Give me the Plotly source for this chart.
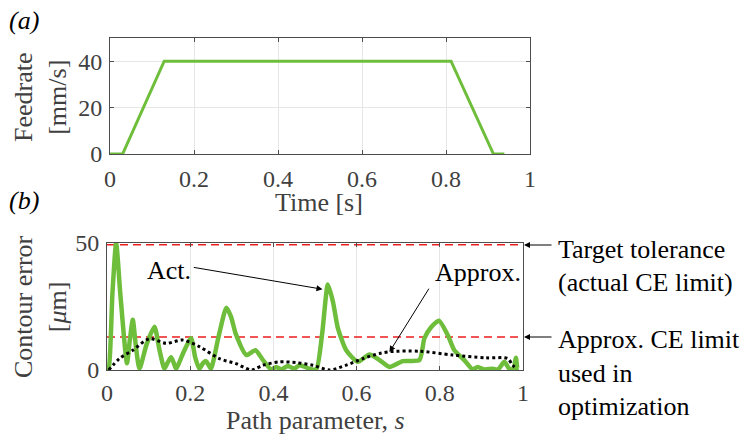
import plotly.graph_objects as go

# ---------------- data ----------------
feed_t = [0.0, 0.030, 0.129, 0.812, 0.913, 0.939]
feed_v = [0, 0, 40, 40, 0, 0]

act_s = [0.0, 0.004, 0.013, 0.022, 0.032, 0.048, 0.055, 0.062, 0.069, 0.078, 0.095, 0.114,
         0.126, 0.138, 0.146, 0.154, 0.160, 0.166, 0.184, 0.202, 0.212, 0.222, 0.230, 0.238,
         0.244, 0.25, 0.268, 0.287, 0.298, 0.31, 0.335, 0.357, 0.375, 0.395, 0.407, 0.419,
         0.435, 0.45, 0.463, 0.487, 0.503, 0.517, 0.531, 0.543, 0.555, 0.575, 0.603, 0.631,
         0.655, 0.679, 0.711, 0.751, 0.763, 0.780, 0.798, 0.819, 0.835, 0.859, 0.879, 0.891,
         0.907, 0.927, 0.94, 0.955, 0.967, 0.977, 0.983, 0.987, 0.99]
act_v = [0, 0.5, 30, 50, 30, 2.7, 12, 19.8, 10, 0.5, 10, 17,
         8, 0.5, 3, 5, 3, 0.5, 7, 12.5, 5, 0.5, 2.5, 3.5,
         2, 0.5, 13, 24.5, 21, 14, 5.9, 7.8, 3.9, 0.2, 1.2, 0.2,
         1.6, 0.5, 1.9, 0.5, 0.3, 14, 33.7, 27, 16.5, 7.8, 3.2, 6.1,
         3.9, 1.2, 3.5, 3.9, 12.5, 17, 19.4, 13.8, 7.8, 3.9, 0.2, 1.2,
         0.2, 0.5, 0.2, 3.2, 0.5, 0.2, 4.8, 0.3, 0.3]

apx_s = [0.004, 0.03, 0.062, 0.102, 0.142, 0.182, 0.222, 0.27, 0.31, 0.347, 0.375, 0.415,
         0.454, 0.495, 0.535, 0.575, 0.615, 0.655, 0.679, 0.751, 0.831, 0.911, 0.963, 0.975, 0.985]
apx_v = [0, 4.5, 7.8, 12.3, 10.5, 11.8, 9.2, 4.5, 2.5, 0, 1.9, 3.2,
         2.9, 1.9, 0, 1.9, 4.5, 6.5, 7.2, 7.4, 5.9, 4.8, 4.5, 1.9, 0.5]

tol_actual = 49.3
tol_approx = 13.0

x_ticks = [0, 0.2, 0.4, 0.6, 0.8, 1]
x_ticktext = ["0", "0.2", "0.4", "0.6", "0.8", "1"]
feed_ticks = [0, 20, 40]
ce_ticks = [0, 50]

# ---------------- styles ----------------
FONT = "'Liberation Serif', 'Times New Roman', Times, serif"
GREEN = "rgb(110,190,60)"
AXC = "#4d4d4d"
TXT = "#404040"
GRID = "#e6e6e6"
FS = 26
TFS = 24

fig = go.Figure()
fig.add_trace(go.Scatter(x=feed_t, y=feed_v, mode="lines", line=dict(color=GREEN, width=3),
                         xaxis="x", yaxis="y", showlegend=False))
fig.add_trace(go.Scatter(x=[0, 1], y=[tol_actual, tol_actual], mode="lines",
                         line=dict(color="rgb(235,30,30)", width=1.5, dash="8px,5px"),
                         xaxis="x2", yaxis="y2", showlegend=False))
fig.add_trace(go.Scatter(x=[0, 1], y=[tol_approx, tol_approx], mode="lines",
                         line=dict(color="rgb(235,30,30)", width=1.5, dash="8px,5px"),
                         xaxis="x2", yaxis="y2", showlegend=False))
fig.add_trace(go.Scatter(x=act_s, y=act_v, mode="lines",
                         line=dict(color=GREEN, width=4.5, shape="spline", smoothing=0.6),
                         xaxis="x2", yaxis="y2", showlegend=False))
fig.add_trace(go.Scatter(x=apx_s, y=apx_v, mode="lines",
                         line=dict(color="black", width=3, dash="dot", shape="spline", smoothing=0.8),
                         xaxis="x2", yaxis="y2", showlegend=False))

W, H = 740, 436
def px(x):
    return x / W
def py(y):
    return (H - y) / H

axis_common = dict(showline=True, linecolor=AXC, linewidth=1, mirror="ticks",
                   ticks="inside", ticklen=4, tickcolor=AXC, tickwidth=1,
                   showgrid=True, gridcolor=GRID, gridwidth=1, zeroline=False,
                   automargin=False,
                   tickfont=dict(family=FONT, size=TFS, color=TXT))

fig.update_layout(
    width=W, height=H, margin=dict(l=0, r=0, t=0, b=0, autoexpand=False),
    paper_bgcolor="white", plot_bgcolor="white",
    font=dict(family=FONT),
    xaxis=dict(domain=[px(110), px(530)], range=[0, 1], anchor="y",
               tickvals=x_ticks, ticktext=x_ticktext, ticklabelstandoff=3,
               **axis_common),
    yaxis=dict(domain=[py(154), py(38)], range=[0, 50], anchor="x",
               tickvals=feed_ticks, ticklabelstandoff=2, **axis_common),
    xaxis2=dict(domain=[px(107), px(523)], range=[0, 1], anchor="y2",
                tickvals=x_ticks, ticktext=x_ticktext, ticklabelstandoff=1,
                **axis_common),
    yaxis2=dict(domain=[py(370), py(243)], range=[0, 50], anchor="x2",
                tickvals=ce_ticks, ticklabelstandoff=2, **axis_common),
)

ann_font = dict(family=FONT, size=FS, color="black")
tfont = dict(family=FONT, size=FS, color=TXT)
P = dict(xref="paper", yref="paper", showarrow=False)
anns = [
    dict(text="<i>(a)</i>", x=px(24), y=py(21), xanchor="center", yanchor="middle", font=ann_font, **P),
    dict(text="<i>(b)</i>", x=px(24), y=py(200), xanchor="center", yanchor="middle", font=ann_font, **P),
    dict(text="Feedrate<br>[mm/s]", x=px(40), y=py(97), xanchor="center", yanchor="middle",
         textangle=-90, font=tfont, **P),
    dict(text="Contour error<br>[<i>μ</i>m]", x=px(40), y=py(307), xanchor="center", yanchor="middle",
         textangle=-90, font=tfont, **P),
    dict(text="Time [s]", x=px(319), y=py(202), xanchor="center", yanchor="middle", font=tfont, **P),
    dict(text="Path parameter, <i>s</i>", x=px(315), y=py(420), xanchor="center", yanchor="middle",
         font=tfont, **P),
    # Act.
    dict(text="Act.", x=0.150, y=39.3, xref="x2", yref="y2", xanchor="center", yanchor="middle",
         showarrow=False, font=ann_font),
    dict(text="", x=0.518, y=31.8, ax=0.205, ay=40.5, xref="x2", yref="y2", axref="x2", ayref="y2",
         showarrow=True, arrowhead=2, arrowsize=1.2, arrowwidth=1, arrowcolor="black"),
    # Approx.
    dict(text="Approx.", x=0.891, y=38.5, xref="x2", yref="y2", xanchor="center", yanchor="middle",
         showarrow=False, font=ann_font),
    dict(text="", x=0.679, y=7.1, ax=0.776, ay=32.6, xref="x2", yref="y2", axref="x2", ayref="y2",
         showarrow=True, arrowhead=2, arrowsize=1.2, arrowwidth=1, arrowcolor="black"),
    # right side labels
    dict(text="", x=px(524), y=py(245), xref="paper", yref="paper", ax=29, ay=0,
         showarrow=True, arrowhead=2, arrowsize=1.2, arrowwidth=1, arrowcolor="black"),
    dict(text="", x=px(524), y=py(337), xref="paper", yref="paper", ax=29, ay=0,
         showarrow=True, arrowhead=2, arrowsize=1.2, arrowwidth=1, arrowcolor="black"),
    dict(text="Target tolerance", x=px(556), y=py(249), xanchor="left", yanchor="middle", font=ann_font, **P),
    dict(text="(actual CE limit)", x=px(556), y=py(282), xanchor="left", yanchor="middle", font=ann_font, **P),
    dict(text="Approx. CE limit", x=px(556), y=py(339), xanchor="left", yanchor="middle", font=ann_font, **P),
    dict(text="used in", x=px(556), y=py(373), xanchor="left", yanchor="middle", font=ann_font, **P),
    dict(text="optimization", x=px(556), y=py(406), xanchor="left", yanchor="middle", font=ann_font, **P),
]
fig.update_layout(annotations=anns)

fig.write_html("out.html", config={"displayModeBar": False},
               post_script="document.body.style.margin='0px';")
